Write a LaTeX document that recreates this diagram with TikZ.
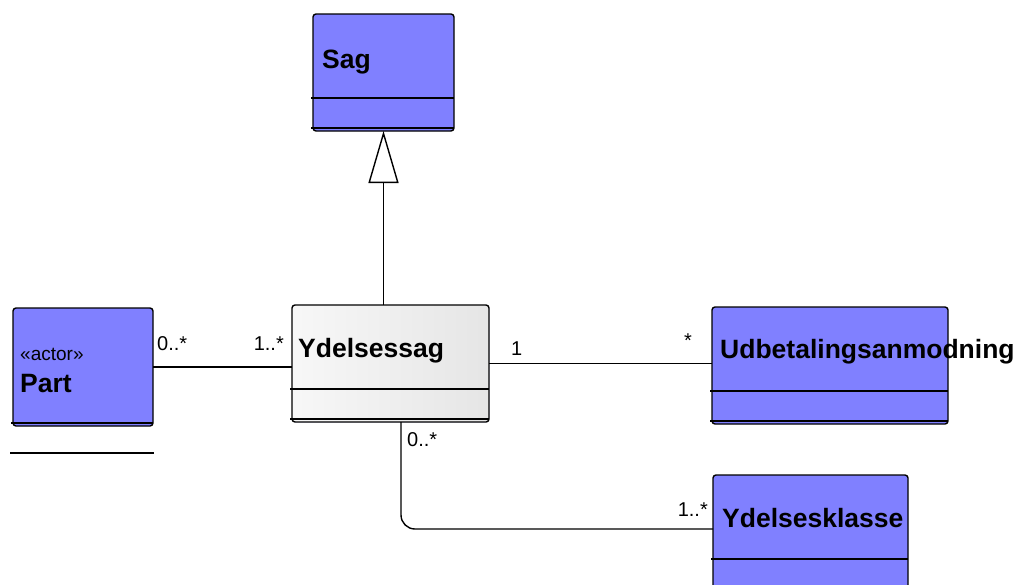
\documentclass[tikz,border=0pt]{standalone}
\usepackage{fontspec}
\setmainfont{Liberation Sans}
\usetikzlibrary{
  arrows.meta,
  calc
}
\definecolor{classblue}{RGB}{128,128,255}
\tikzset{
  % Shared values that are assigned to different keys in the styles below.
  globals/box height/.initial=117pt,
  globals/line width/.initial=1.4pt,
%
  % For class boxes.
  umlclass/.style={
    draw,
    line width=\pgfkeysvalueof{/tikz/globals/line width},
    rounded corners=3pt,
    fill=classblue,
    minimum height=\pgfkeysvalueof{/tikz/globals/box height},
    inner sep=0pt,
    outer sep=0pt},
%
  % For the grey class in the middle.
  plain umlclass/.style={
    umlclass,
    left color=white!97!black,
    right color=white!90!black},
%
  % For compartment lines.
  divider/.style={
    line width=\pgfkeysvalueof{/tikz/globals/line width}},
%
  % For class names.
  class name/.style={
    font={\fontsize{26.5pt}{28pt}\selectfont\bfseries},
    anchor=base west,
    inner sep=0pt},
%
  % For stereotypes and multiplicities.
  small text/.style={
    font={\fontsize{20pt}{22pt}\selectfont},
    anchor=base west,
    inner sep=0pt},
%
  % For associations.
  link/.style={
    line width=\pgfkeysvalueof{/tikz/globals/line width}},
%
  % For the generalization with its hollow triangle.
  inherit/.style={
    link,
    -{Triangle[open,length=52pt,width=30pt]}}
}

\begin{document}
\begin{tikzpicture}[x=1pt,y=-1pt]
  \useasboundingbox (0,0) rectangle (1019,584);

  \node[umlclass, minimum width=141pt] (sag) at (383.5,72.5) {};
  \node[umlclass, minimum width=140pt, minimum height=118pt] (part) at (83,367) {};
  \node[plain umlclass, minimum width=197pt] (ydelsessag) at (390.5,363.5) {};
  \node[umlclass, minimum width=236pt] (udb) at (830,365.5) {};
  \node[umlclass, minimum width=195pt] (klasse) at (810.5,533.5) {};

  % Two compartments below the name.
  \foreach \cls in {sag,ydelsessag,udb,klasse}
    {\draw[divider] ($(\cls.north west)+(-2,84)$) -- ($(\cls.north east)+(0,84)$);
     \draw[divider] ($(\cls.north west)+(-2,114)$) -- ($(\cls.north east)+(0,114)$);}
  \draw[divider] ($(part.south west)+(-2,-3)$) -- ($(part.south east)+(0,-3)$);
  \draw[divider] ($(part.south west)+(-3,27)$) -- ($(part.south east)+(1,27)$);

  \node[class name] (sagname) at ($(sag.north west)+(9,54)$) {Sag};
  \node[small text, font={\fontsize{19pt}{21pt}\selectfont}] (actor)
    at ($(part.north west)+(7,52)$) {«actor»};
  \node[class name] (partname) at ($(part.north west)+(7,84)$) {Part};
  \node[class name] (ydelsessagname) at ($(ydelsessag.north west)+(6,52)$) {Ydelsessag};
  \node[class name] (udbname) at ($(udb.north west)+(8,51)$) {Udbetalingsanmodning};
  \node[class name] (klassename) at ($(klasse.north west)+(9,52)$) {Ydelsesklasse};

  \draw[inherit] (sag.south |- ydelsessag.north) -- (sag.south);

  \draw[link] (part.east) -- (part.east -| ydelsessag.west);
  \draw[link] (ydelsessag.east) -- (ydelsessag.east -| udb.west);

  \coordinate (drop) at ($(ydelsessag.south)+(10.5,0)$);
  \draw[link, rounded corners=14pt] (drop) |- ([yshift=4.5pt]klasse.west);

  % Multiplicities at both ends of each association.
  \node[small text] (partmult) at ($(part.east)+(4,-17)$) {0..*};
  \node[small text, anchor=base east] (sagpartmult) at ($(ydelsessag.west)+(-8,-13.5)$) {1..*};
  \node[small text] (sagudbmult) at ($(ydelsessag.east)+(22,-8.5)$) {1};
  \node[small text, anchor=base east] (udbmult) at ($(udb.west)+(-20,-18.5)$) {*};
  \node[small text] (sagklassemult) at ($(ydelsessag.south)+(16.5,24)$) {0..*};
  \node[small text, anchor=base east] (klassemult) at ($(klasse.west)+(-5,-17.5)$) {1..*};
\end{tikzpicture}
\end{document}
